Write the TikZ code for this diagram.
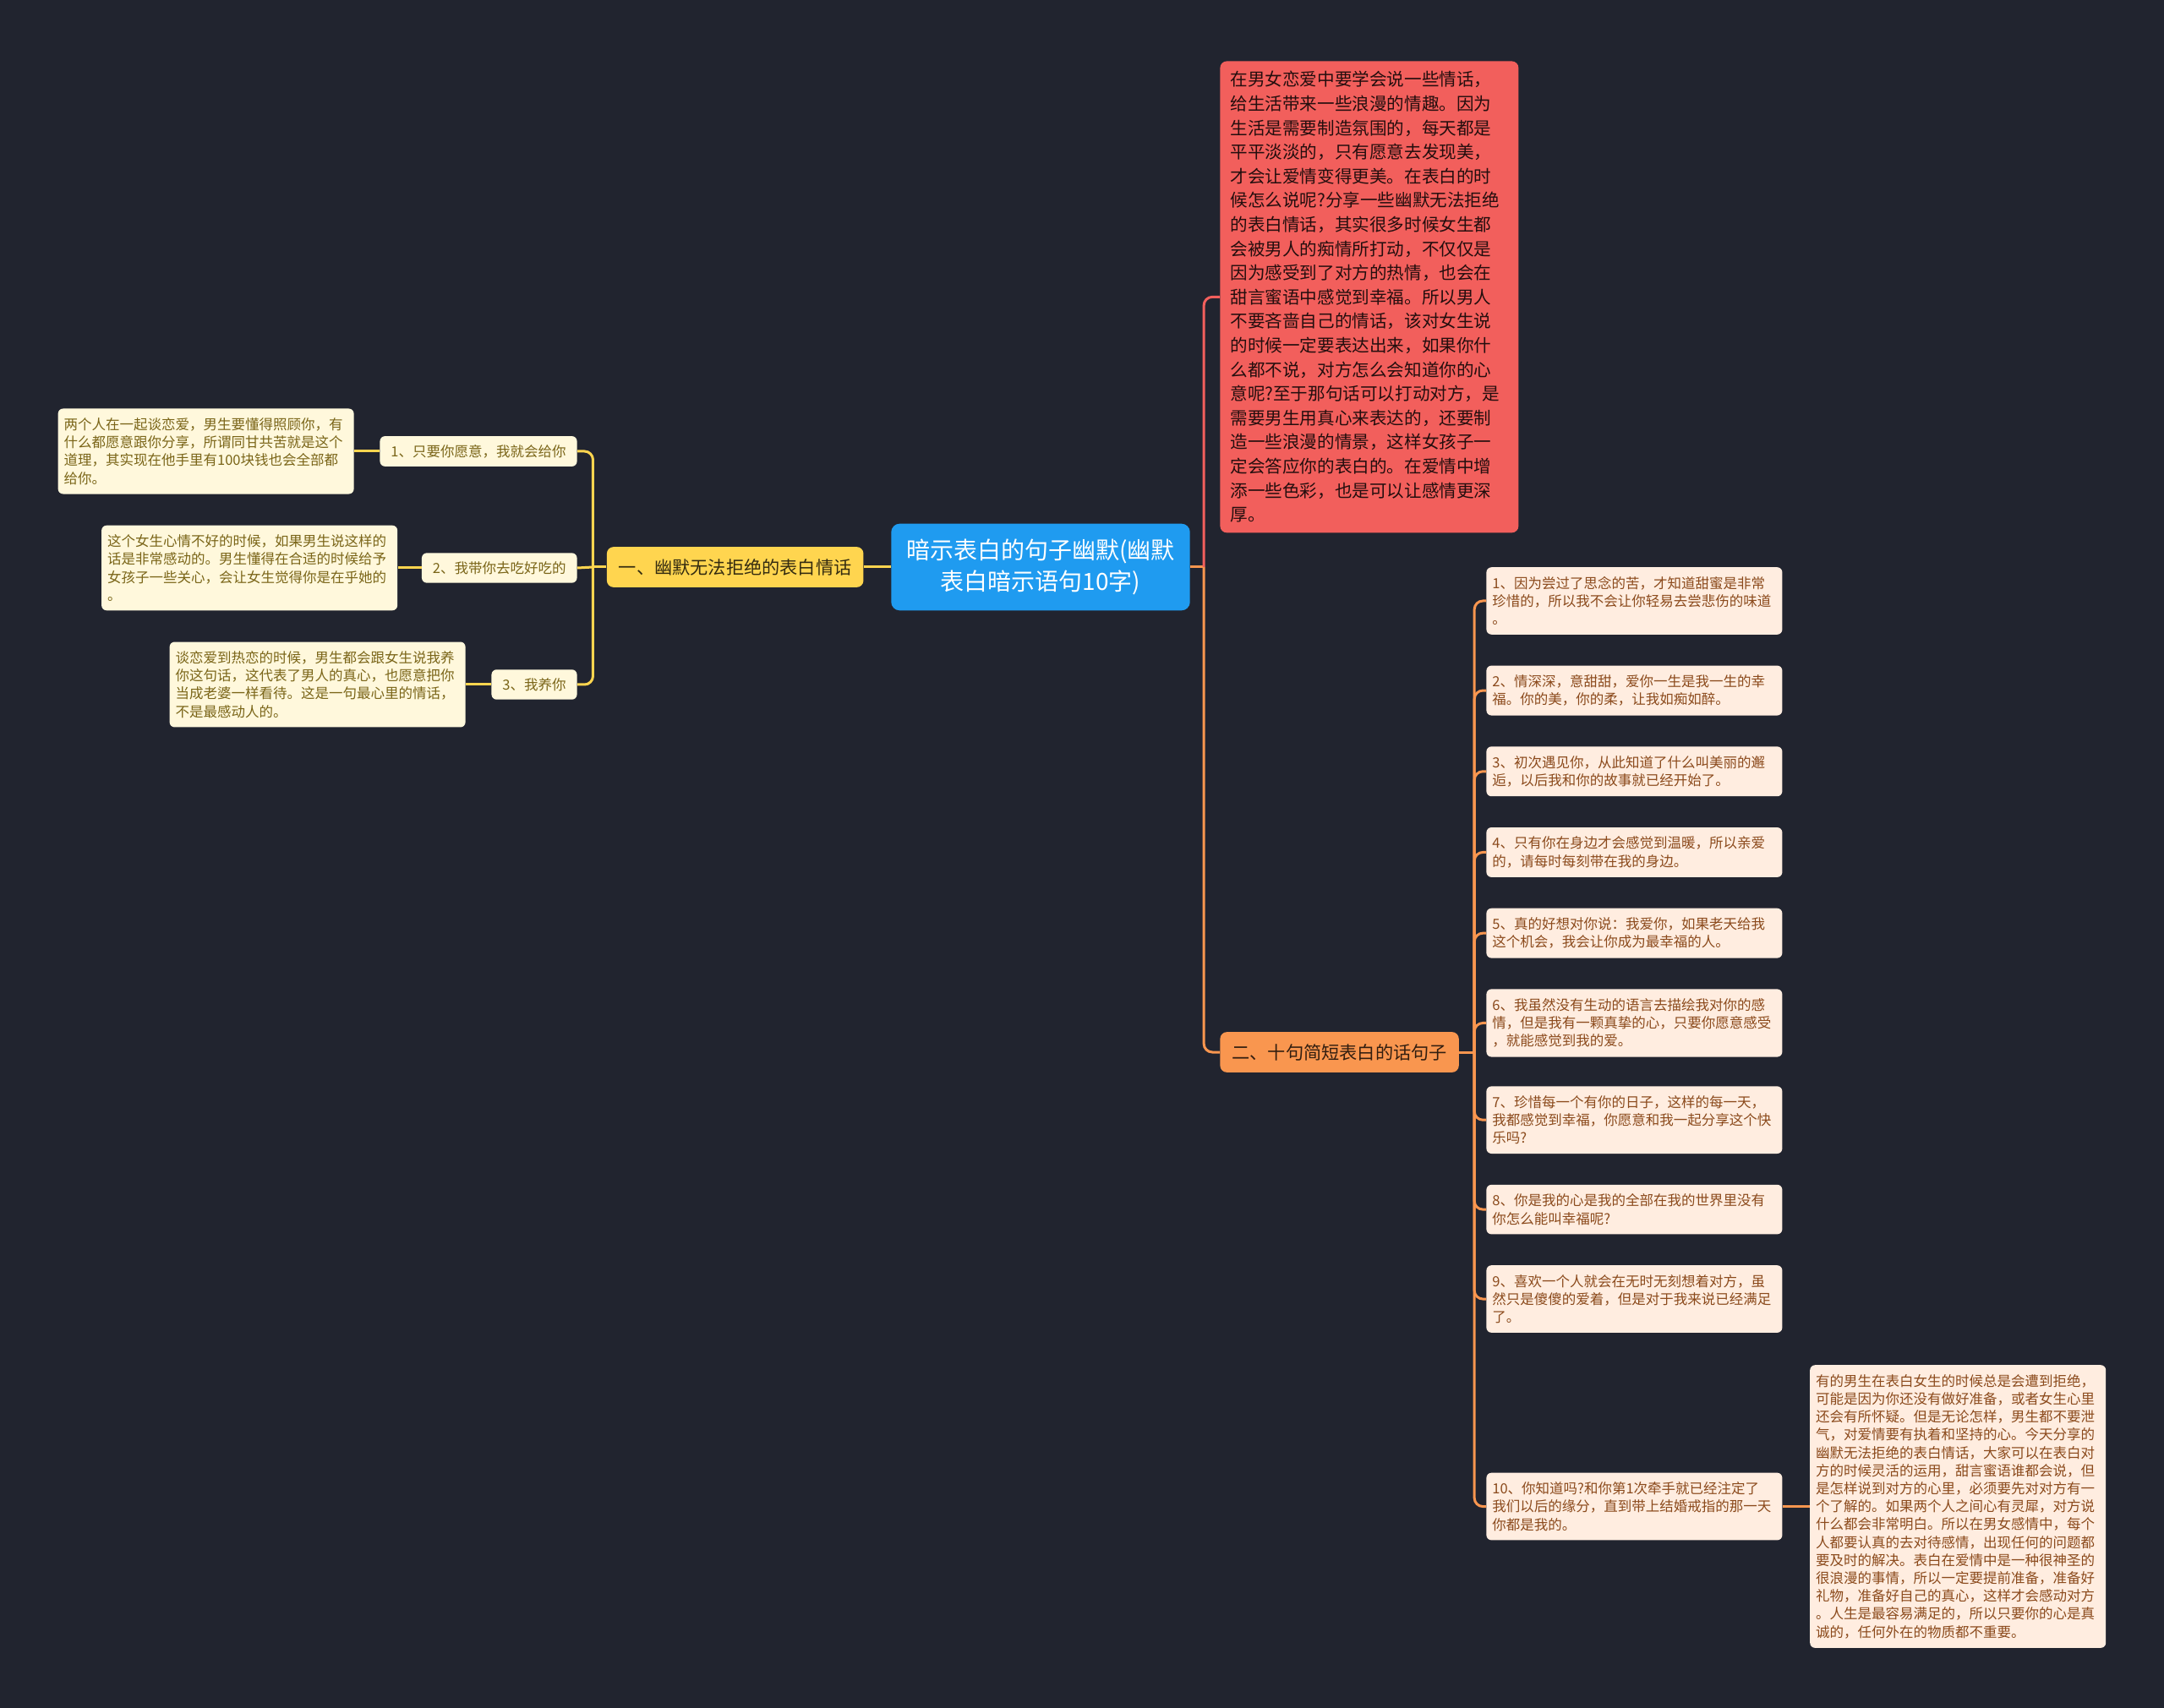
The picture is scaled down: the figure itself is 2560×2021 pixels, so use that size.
\documentclass[tikz,border=0pt]{standalone}
\usepackage{fontspec}
\setmainfont{Noto Sans CJK SC}
\usetikzlibrary{positioning}
\definecolor{bgdark}{HTML}{21242F}
\definecolor{rootblue}{HTML}{1F9BF0}
\definecolor{notered}{HTML}{F25F5C}
\definecolor{ylw}{HTML}{FFD54F}
\definecolor{org}{HTML}{F9964F}
\definecolor{cream}{HTML}{FFF8DC}
\definecolor{peach}{HTML}{FFEDE0}
\definecolor{olive}{HTML}{7A6518}
\definecolor{rust}{HTML}{8B4A1C}
\newcommand\smallcn{\fontsize{8.25pt}{10.6pt}\selectfont}

\begin{document}
\begin{tikzpicture}[x=0.5pt,y=-0.5pt,
node distance=18pt and 15pt,
topic/.style={fill=rootblue,rounded corners=5pt,align=center,text=white,inner xsep=9pt,inner ysep=9pt,font=\fontsize{14pt}{18.75pt}\selectfont},
branch/.style={rounded corners=4pt,inner xsep=7pt,inner ysep=7pt,font=\fontsize{10.6pt}{13pt}\selectfont},
leaf/.style={fill=cream,text=olive,rounded corners=3pt,inner xsep=6.5pt,inner ysep=5pt,font=\smallcn},
memo/.style={fill=cream,text=olive,rounded corners=3pt,align=left,text width=168pt,inner xsep=3.5pt,inner ysep=5.5pt,font=\smallcn},
item/.style={fill=peach,text=rust,rounded corners=3pt,align=left,text width=168pt,inner xsep=3.5pt,inner ysep=5.5pt,font=\smallcn},
yline/.style={draw=ylw,line width=1.5pt},
oline/.style={draw=org,line width=1.5pt},
rline/.style={draw=notered,line width=1.5pt}
]
\fill[bgdark] (0,0) rectangle (2560,2021);

% centre and first branch
\node[topic] (root) at (1231,671) {暗示表白的句子幽默(幽默\\表白暗示语句10字)};
\node[branch,fill=ylw,text=black!80!ylw,left=16pt of root] (b1) {一、幽默无法拒绝的表白情话};
\node[leaf,anchor=east] (s1) at (683,534) {1、只要你愿意，我就会给你};
\node[leaf,anchor=east] (s2) at (683,672) {2、我带你去吃好吃的};
\node[leaf,anchor=east] (s3) at (683,810) {3、我养你};
\node[memo,left=of s1] (n1) {两个人在一起谈恋爱，男生要懂得照顾你，有\\什么都愿意跟你分享，所谓同甘共苦就是这个\\道理，其实现在他手里有100块钱也会全部都\\给你。};
\node[memo,left=14pt of s2] (n2) {这个女生心情不好的时候，如果男生说这样的\\话是非常感动的。男生懂得在合适的时候给予\\女孩子一些关心，会让女生觉得你是在乎她的\\。};
\node[memo,left=of s3] (n3) {谈恋爱到热恋的时候，男生都会跟女生说我养\\你这句话，这代表了男人的真心，也愿意把你\\当成老婆一样看待。这是一句最心里的情话，\\不是最感动人的。};

% red note
\node[fill=notered,text=black!85!notered,rounded corners=4pt,align=left,text width=164.5pt,inner xsep=6pt,inner ysep=6pt,anchor=north west,font=\fontsize{10.3pt}{14.3pt}\selectfont] (rednote) at (1443,72) {在男女恋爱中要学会说一些情话，\\给生活带来一些浪漫的情趣。因为\\生活是需要制造氛围的，每天都是\\平平淡淡的，只有愿意去发现美，\\才会让爱情变得更美。在表白的时\\候怎么说呢?分享一些幽默无法拒绝\\的表白情话，其实很多时候女生都\\会被男人的痴情所打动，不仅仅是\\因为感受到了对方的热情，也会在\\甜言蜜语中感觉到幸福。所以男人\\不要吝啬自己的情话，该对女生说\\的时候一定要表达出来，如果你什\\么都不说，对方怎么会知道你的心\\意呢?至于那句话可以打动对方，是\\需要男生用真心来表达的，还要制\\造一些浪漫的情景，这样女孩子一\\定会答应你的表白的。在爱情中增\\添一些色彩，也是可以让感情更深\\厚。};

% second branch
\node[branch,fill=org,text=black!80!org,anchor=west] (b2) at (1443,1245) {二、十句简短表白的话句子};
\node[item,anchor=west] (t1) at (1758,711) {1、因为尝过了思念的苦，才知道甜蜜是非常\\珍惜的，所以我不会让你轻易去尝悲伤的味道\\。};
\node[item,below=of t1] (t2) {2、情深深，意甜甜，爱你一生是我一生的幸\\福。你的美，你的柔，让我如痴如醉。};
\node[item,below=of t2] (t3) {3、初次遇见你，从此知道了什么叫美丽的邂\\逅，以后我和你的故事就已经开始了。};
\node[item,below=of t3] (t4) {4、只有你在身边才会感觉到温暖，所以亲爱\\的，请每时每刻带在我的身边。};
\node[item,below=of t4] (t5) {5、真的好想对你说：我爱你，如果老天给我\\这个机会，我会让你成为最幸福的人。};
\node[item,below=of t5] (t6) {6、我虽然没有生动的语言去描绘我对你的感\\情，但是我有一颗真挚的心，只要你愿意感受\\，就能感觉到我的爱。};
\node[item,below=17pt of t6] (t7) {7、珍惜每一个有你的日子，这样的每一天，\\我都感觉到幸福，你愿意和我一起分享这个快\\乐吗?};
\node[item,below=of t7] (t8) {8、你是我的心是我的全部在我的世界里没有\\你怎么能叫幸福呢?};
\node[item,below=of t8] (t9) {9、喜欢一个人就会在无时无刻想着对方，虽\\然只是傻傻的爱着，但是对于我来说已经满足\\了。};
\node[item,below=82.5pt of t9] (t10) {10、你知道吗?和你第1次牵手就已经注定了\\我们以后的缘分，直到带上结婚戒指的那一天\\你都是我的。};
\node[item,right=16pt of t10] (n10) {有的男生在表白女生的时候总是会遭到拒绝，\\可能是因为你还没有做好准备，或者女生心里\\还会有所怀疑。但是无论怎样，男生都不要泄\\气，对爱情要有执着和坚持的心。今天分享的\\幽默无法拒绝的表白情话，大家可以在表白对\\方的时候灵活的运用，甜言蜜语谁都会说，但\\是怎样说到对方的心里，必须要先对对方有一\\个了解的。如果两个人之间心有灵犀，对方说\\什么都会非常明白。所以在男女感情中，每个\\人都要认真的去对待感情，出现任何的问题都\\要及时的解决。表白在爱情中是一种很神圣的\\很浪漫的事情，所以一定要提前准备，准备好\\礼物，准备好自己的真心，这样才会感动对方\\。人生是最容易满足的，所以只要你的心是真\\诚的，任何外在的物质都不重要。};

% connectors
\coordinate[left=8pt of b1.west] (lj);
\coordinate[right=8pt of root.east] (rj);
\coordinate[right=9pt of b2.east] (bj);
\draw[yline] (root.west) -- (b1.east);
\draw[yline] (b1.west) -- (lj);
\draw[yline,rounded corners=5pt] (lj) |- (s1.east);
\draw[yline] (lj) -- (s2.east);
\draw[yline,rounded corners=5pt] (lj) |- (s3.east);
\draw[yline] (s1.west) -- (n1.east);
\draw[yline] (s2.west) -- (n2.east);
\draw[yline] (s3.west) -- (n3.east);
\draw[oline] (root.east) -- (rj);
\draw[rline,rounded corners=5pt] (rj) |- (rednote.west);
\draw[oline,rounded corners=5pt] (rj) |- (b2.west);
\draw[oline] (b2.east) -- (bj);
\foreach \i in {1,...,10}
  \draw[oline,rounded corners=5pt] (bj) |- (t\i.west);
\draw[oline] (t10.east) -- (n10.west);
\end{tikzpicture}
\end{document}
